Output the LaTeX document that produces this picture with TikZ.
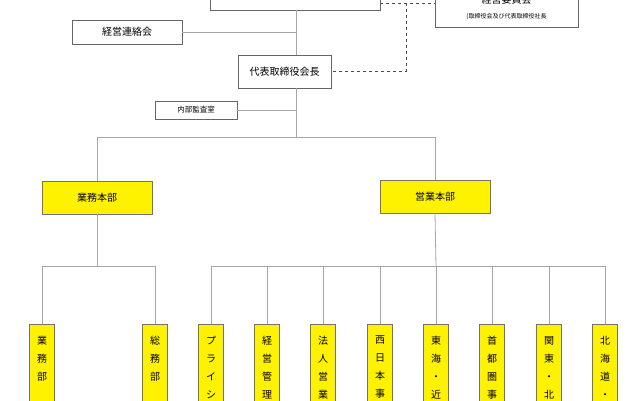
\documentclass[tikz,border=0pt]{standalone}
\usepackage{fontspec}
\setmainfont{Noto Sans CJK JP}
\begin{document}
\begin{tikzpicture}[x=1pt,y=-1pt,
 ln/.style={draw=black!35,line width=0.8pt},
 bx/.style={draw=black!60,line width=0.8pt,fill=white,font=\fontsize{10}{11}\selectfont,minimum height=23pt,inner sep=0pt},
 yb/.style={draw=black!55,line width=0.8pt,fill=yellow,font=\fontsize{10}{11}\selectfont,inner sep=0pt},
 vb/.style={draw=black!55,line width=0.8pt,fill=yellow,minimum width=25pt,minimum height=110pt,anchor=north,inner sep=0pt},
 vt/.style={font=\fontsize{10}{18}\selectfont,align=center,anchor=north,inner sep=0pt}]
\useasboundingbox (0,0) rectangle (640,400);
\clip (0,0) rectangle (640,400);
% top
\node[bx,minimum width=170pt,minimum height=30pt] (top) at (295,-5) {取締役会};
\node[bx,minimum width=143pt,minimum height=40pt,align=center] (iin) at (506.5,7) {\raisebox{3pt}{経営委員会}\\[1pt]{\fontsize{6}{7}\selectfont (取締役会及び代表取締役社長}};
\node[bx,minimum width=110pt,minimum height=24pt] (ren) at (127,32) {経営連絡会};
\node[bx,minimum width=93pt,minimum height=33pt] (kai) at (284.5,71.5) {代表取締役会長};
\node[bx,minimum width=82pt,minimum height=18pt,font=\fontsize{7.5}{8}\selectfont] (kan) at (196,110) {内部監査室};
\coordinate (j1) at (296,32);
\coordinate (j2) at (296,110);
\coordinate (j3) at (296,137);
\coordinate (d1) at (406,3);
\coordinate (d2) at (406,71);
\draw[ln] (top.south -| j1) -- (kai.north -| j1);
\draw[ln] (ren.east) -- (j1);
\draw[ln] (kai.south -| j2) -- (j3);
\draw[ln] (kan.east) -- (j2);
\draw[black!70,dashed,line width=0.7pt] (top.east |- d1) -- (iin.west |- d1);
\draw[black!70,dashed,line width=0.7pt] (d1) -- (d2) -- (kai.east |- d2);
% honbu
\node[yb,minimum width=110pt,minimum height=33pt] (gyo) at (97,197.5) {業務本部};
\node[yb,minimum width=110pt,minimum height=33pt] (ei) at (435,196.5) {営業本部};
\draw[ln] (97,137) -- (435,137);
\draw[ln] (97,137) -- (gyo.north);
\draw[ln] (435,137) -- (ei.north);
% departments
\foreach \n/\x/\t in {a/42/業\\務\\部, b/155/総\\務\\部, c/211/プ\\ラ\\イ\\シ\\ン\\グ, d/267/経\\営\\管\\理\\部, e/323/法\\人\\営\\業\\部, f/380/西\\日\\本\\事\\業, g/436/東\\海\\・\\近\\畿\\事, h/492/首\\都\\圏\\事\\業\\部, i/549/関\\東\\・\\北\\信\\越, j/605/北\\海\\道\\・\\東\\北}{
 \node[vb] (\n) at (\x,324) {};
 \node[vt] (\n t) at (\x,336) {\t};
}
\draw[ln] (gyo.south) -- (97,266);
\draw[ln] (a.north) -- (42,266) -- (155,266) -- (b.north);
\draw[ln] (ei.south) -- (436,266);
\draw[ln] (211,266) -- (605,266);
\foreach \n in {c,d,e,f,g,h,i,j} \draw[ln] (\n.north) -- (\n.north |- 0,266);
\end{tikzpicture}
\end{document}
